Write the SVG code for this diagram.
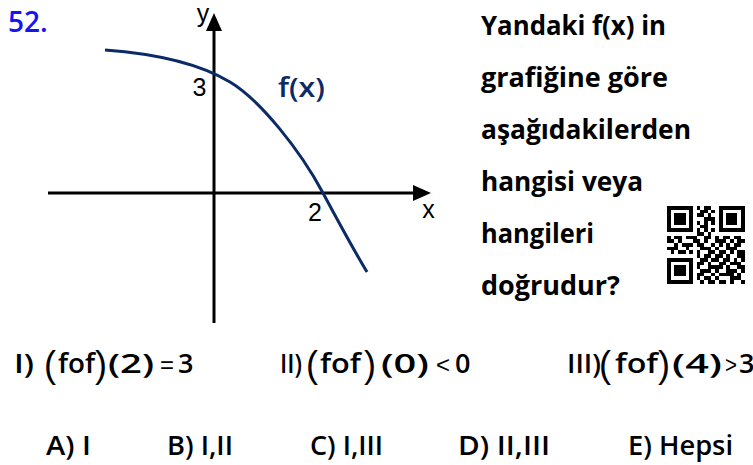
<svg xmlns="http://www.w3.org/2000/svg" width="753" height="465" viewBox="0 0 753 465">
<style>
.num{font-family:"Open Sans","Noto Sans",sans-serif;font-weight:600;font-size:28px;fill:#1414f5}
.ax{font-family:"Liberation Sans",Arial,sans-serif;font-size:25px;fill:#000}
.fx{font-family:"Open Sans","Noto Sans",sans-serif;font-weight:600;font-size:27px;fill:#0b2a66}
.q{font-family:"Open Sans","Noto Sans",sans-serif;font-weight:700;font-size:26px;fill:#000}
.m{font-family:"Open Sans","Noto Sans",sans-serif;font-weight:600;font-size:27px;fill:#000}
.op{font-family:"Liberation Sans",Arial,sans-serif;font-weight:400;font-size:24px;fill:#000}
.bp{font-family:"Liberation Sans",Arial,sans-serif;font-weight:400;font-size:36px;fill:#000}
.ans{font-family:"Open Sans","Noto Sans",sans-serif;font-weight:600;font-size:27px;fill:#000}
.axis{stroke:#000;stroke-width:3;fill:none}
</style>
<rect width="753" height="465" fill="#fff"/>
<g id="number"><text class="num" x="8" y="32">52.</text></g>
<g id="graph">
  <g id="axes">
    <line class="axis" x1="48" y1="193" x2="416" y2="193"/>
    <polygon points="431,193 413,185 413,201" fill="#000"/>
    <line class="axis" x1="214" y1="323" x2="214" y2="28"/>
    <polygon points="214,13 206,31 222,31" fill="#000"/>
  </g>
  <g id="curve">
    <path d="M105,50 C160,54 200,64 230,82 S300,150 323,193 S355,252 367,272" fill="none" stroke="#0b2a66" stroke-width="3"/>
  </g>
  <g id="labels">
    <text class="ax" x="203" y="22" text-anchor="middle" font-size="24">y</text>
    <text class="ax" x="428.5" y="218" text-anchor="middle" font-size="28">x</text>
    <text class="ax" x="199.5" y="96" text-anchor="middle">3</text>
    <text class="ax" x="315" y="221" text-anchor="middle">2</text>
    <text class="fx" x="278" y="97" textLength="47" lengthAdjust="spacingAndGlyphs">f(x)</text>
  </g>
</g>
<g id="question">
  <text class="q" x="481" y="35" textLength="185" lengthAdjust="spacingAndGlyphs">Yandaki f(x) in</text>
  <text class="q" x="481" y="87" textLength="187" lengthAdjust="spacingAndGlyphs">grafiğine göre</text>
  <text class="q" x="481" y="139" textLength="210" lengthAdjust="spacingAndGlyphs">aşağıdakilerden</text>
  <text class="q" x="481" y="191" textLength="162" lengthAdjust="spacingAndGlyphs">hangisi veya</text>
  <text class="q" x="481" y="243" textLength="113" lengthAdjust="spacingAndGlyphs">hangileri</text>
  <text class="q" x="481" y="295" textLength="139" lengthAdjust="spacingAndGlyphs">doğrudur?</text>
</g>
<g id="qr" transform="translate(667,206) scale(3.7)">
  <path fill="none" stroke="#000" stroke-width="1" shape-rendering="crispEdges" d="
M0 .5h7M8 .5h1M10 .5h2M14 .5h7
M0 1.5h1M6 1.5h1M9 1.5h2M12 1.5h1M14 1.5h1M20 1.5h1
M0 2.5h1M2 2.5h3M6 2.5h1M8 2.5h2M11 2.5h1M14 2.5h1M16 2.5h3M20 2.5h1
M0 3.5h1M2 3.5h3M6 3.5h1M10 3.5h3M14 3.5h1M16 3.5h3M20 3.5h1
M0 4.5h1M2 4.5h3M6 4.5h1M8 4.5h1M10 4.5h1M12 4.5h1M14 4.5h1M16 4.5h3M20 4.5h1
M0 5.5h1M6 5.5h1M9 5.5h2M14 5.5h1M20 5.5h1
M0 6.5h7M8 6.5h1M10 6.5h1M12 6.5h1M14 6.5h7
M8 7.5h2M11 7.5h1
M0 8.5h1M2 8.5h2M5 8.5h3M10 8.5h2M13 8.5h1M15 8.5h2M18 8.5h2
M0 9.5h2M3 9.5h1M7 9.5h2M10 9.5h1M13 9.5h3M17 9.5h1M19 9.5h2
M2 10.5h1M4 10.5h3M8 10.5h2M12 10.5h1M14 10.5h1M16 10.5h1M18 10.5h2
M0 11.5h3M5 11.5h1M9 11.5h3M13 11.5h1M16 11.5h3
M1 12.5h1M3 12.5h2M6 12.5h1M8 12.5h1M11 12.5h2M14 12.5h2M17 12.5h1M19 12.5h2
M8 13.5h1M10 13.5h2M13 13.5h2M16 13.5h1M19 13.5h2
M0 14.5h7M9 14.5h2M12 14.5h2M15 14.5h2M18 14.5h1M20 14.5h1
M0 15.5h1M6 15.5h1M8 15.5h2M11 15.5h1M14 15.5h2M17 15.5h3
M0 16.5h1M2 16.5h3M6 16.5h1M8 16.5h1M11 16.5h4M16 16.5h1M19 16.5h2
M0 17.5h1M2 17.5h3M6 17.5h1M9 17.5h3M13 17.5h1M16 17.5h3M20 17.5h1
M0 18.5h1M2 18.5h3M6 18.5h1M8 18.5h2M12 18.5h1M14 18.5h4M19 18.5h1
M0 19.5h1M6 19.5h1M8 19.5h1M10 19.5h2M13 19.5h1M17 19.5h3
M0 20.5h7M9 20.5h1M11 20.5h2M14 20.5h2M17 20.5h1M20 20.5h1"/>
</g>
<g id="statements">
  <g id="s1">
    <text class="m" x="14" y="373" textLength="20" lengthAdjust="spacingAndGlyphs">I)</text>
    <text class="bp" x="44" y="377">(</text>
    <text class="m" x="58" y="373" textLength="37" lengthAdjust="spacingAndGlyphs">fof</text>
    <text class="bp" x="95" y="377">)</text>
    <text class="m" x="108" y="373" textLength="46" lengthAdjust="spacingAndGlyphs">(2)</text>
    <text class="op" x="160" y="373" textLength="14" lengthAdjust="spacingAndGlyphs">=</text>
    <text class="m" x="178" y="373">3</text>
  </g>
  <g id="s2">
    <text class="m" x="280" y="373" textLength="22" lengthAdjust="spacingAndGlyphs">II)</text>
    <text class="bp" x="306" y="377">(</text>
    <text class="m" x="320" y="373" textLength="41" lengthAdjust="spacingAndGlyphs">fof</text>
    <text class="bp" x="364" y="377">)</text>
    <text class="m" x="381" y="373" textLength="48" lengthAdjust="spacingAndGlyphs">(0)</text>
    <text class="op" x="436" y="373" textLength="14" lengthAdjust="spacingAndGlyphs">&lt;</text>
    <text class="m" x="455" y="373">0</text>
  </g>
  <g id="s3">
    <text class="m" x="567" y="373" textLength="34" lengthAdjust="spacingAndGlyphs">III)</text>
    <text class="bp" x="599" y="377">(</text>
    <text class="m" x="615" y="373" textLength="43" lengthAdjust="spacingAndGlyphs">fof</text>
    <text class="bp" x="658" y="377">)</text>
    <text class="m" x="672" y="373" textLength="50" lengthAdjust="spacingAndGlyphs">(4)</text>
    <text class="op" x="725" y="373" textLength="12" lengthAdjust="spacingAndGlyphs">&gt;</text>
    <text class="m" x="739" y="373">3</text>
  </g>
</g>
<g id="answers">
  <text class="ans" x="46" y="455" textLength="45" lengthAdjust="spacingAndGlyphs">A) I</text>
  <text class="ans" x="167" y="455" textLength="66" lengthAdjust="spacingAndGlyphs">B) I,II</text>
  <text class="ans" x="310" y="455" textLength="73" lengthAdjust="spacingAndGlyphs">C) I,III</text>
  <text class="ans" x="458" y="455" textLength="92" lengthAdjust="spacingAndGlyphs">D) II,III</text>
  <text class="ans" x="628" y="455" textLength="105" lengthAdjust="spacingAndGlyphs">E) Hepsi</text>
</g>
</svg>
